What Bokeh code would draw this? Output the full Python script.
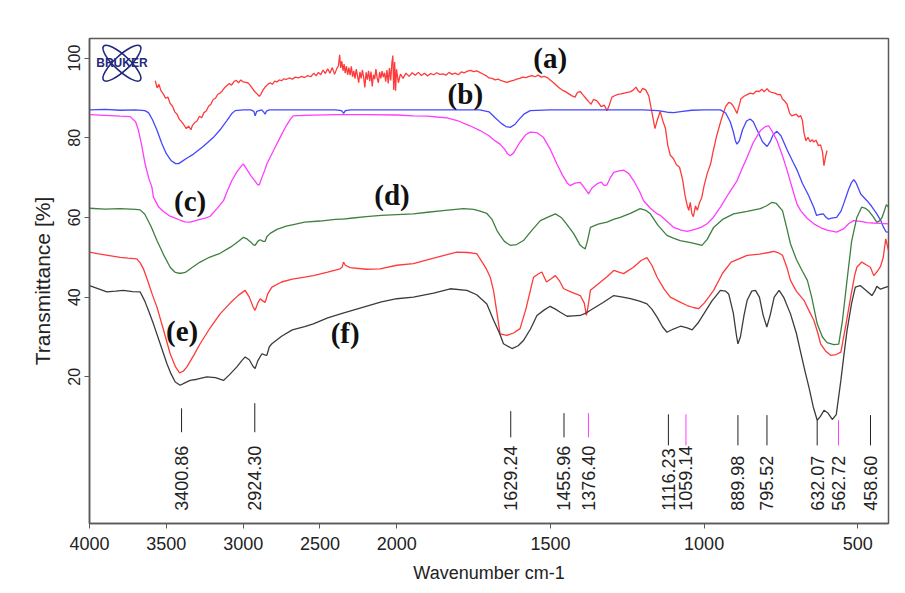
import numpy as np
from bokeh.plotting import figure
from bokeh.models import Range1d, FixedTicker
from bokeh.core.properties import value
from bokeh.embed import file_html
from bokeh.resources import INLINE

# ---------------- data (wavenumber cm-1, transmittance %) ----------------
a_wn = [3572,3560,3548,3535,3520,3505,3490,3475,3460,3445,3430,3415,3400,3385,3370,3355,3340,3330,3315,3300,
        3285,3270,3255,3240,3225,3210,3195,3180,3165,3150,3135,3120,3105,3090,3075,3060,3045,3030,3015,3000,
        2985,2970,2955,2940,2925,2910,2895,2885,2870,2855,2840,2824,2810,2795,2780,2765,2750,2735,2720,2700,
        2680,2660,2640,2620,2600,2580,2560,2540,2525,2510,2495,2480,2465,2450,2435,2420,2405,2390,2380,2372,
        2365,2358,2350,2343,2336,2328,2320,2312,2304,2296,2288,2280,2272,2264,2256,2248,2240,2232,2224,2216,
        2208,2200,2192,2184,2176,2168,2160,2152,2144,2136,2128,2120,2112,2104,2096,2088,2080,2072,2064,2056,
        2048,2040,2032,2026,2020,2014,2008,2002,1995,1988,1980,1970,1960,1950,1940,1930,1920,1910,1900,1890,
        1880,1870,1860,1850,1840,1830,1820,1810,1800,1790,1780,1770,1760,1750,1740,1730,1720,1710,1700,1690,
        1680,1670,1660,1650,1642,1630,1620,1610,1600,1590,1580,1570,1560,1550,1540,1530,1520,1510,1500,1490,
        1480,1470,1460,1450,1440,1430,1420,1412,1403,1395,1385,1375,1368,1360,1350,1342,1335,1325,1316,1308,
        1300,1290,1280,1270,1260,1250,1240,1230,1222,1215,1208,1200,1190,1180,1170,1160,1152,1143,1135,1126,
        1118,1110,1100,1090,1080,1070,1062,1055,1050,1045,1040,1035,1028,1022,1015,1008,1000,990,979,970,
        960,950,940,930,920,912,905,898,893,887,880,870,860,850,840,830,820,812,805,795,
        788,780,770,760,752,745,738,730,722,715,708,700,692,686,680,675,669,662,655,648,
        643,636,628,621,615,610,605,600]
a_t = [94.3,92.5,93.4,91.8,91.0,89.9,90.2,88.6,87.9,86.5,85.9,84.6,84.0,83.2,82.3,82.9,82.0,83.1,83.8,84.2,
       85.4,85.0,86.3,86.7,87.9,88.4,89.6,89.9,90.9,91.2,91.8,92.6,93.1,93.6,93.2,94.1,94.4,93.8,94.5,94.0,
       93.9,93.8,93.2,92.4,91.6,91.0,90.4,90.9,92.0,92.8,93.4,93.8,93.4,94.2,94.0,94.5,94.3,94.8,94.6,95.0,
       94.7,95.2,95.0,95.4,95.1,95.6,95.3,96.2,95.5,96.4,95.8,97.0,96.1,97.3,96.2,97.6,95.9,97.4,98.0,100.8,
       97.5,99.2,96.8,98.5,96.2,98.0,95.8,97.6,95.7,97.9,95.3,96.8,94.8,97.2,95.6,93.8,96.5,94.9,97.0,95.2,
       92.6,96.4,94.6,96.8,94.2,96.6,92.9,95.8,94.7,97.2,95.0,93.8,96.5,94.9,96.7,95.2,96.3,94.1,97.0,93.6,
       97.5,94.4,98.8,100.6,92.0,99.0,91.8,97.2,93.8,96.0,94.9,96.2,95.4,96.3,95.7,96.4,95.6,96.2,95.5,96.1,
       95.8,96.3,95.9,96.0,95.7,96.4,95.9,96.2,95.8,96.5,96.3,96.7,96.9,96.6,96.8,96.4,96.0,95.6,95.0,94.9,
       94.5,94.7,94.3,94.1,93.9,94.2,94.4,94.7,94.9,95.2,95.1,95.4,95.6,95.3,95.7,95.2,95.4,95.1,94.4,93.8,
       93.1,92.4,91.9,91.5,91.0,90.5,90.2,91.4,91.6,90.8,89.9,89.0,88.4,89.6,89.3,88.6,87.8,88.2,86.8,88.3,
       90.2,90.6,90.9,91.0,91.2,91.4,91.5,92.0,92.7,91.8,91.3,92.4,92.0,90.5,86.5,82.3,84.5,86.6,84.4,82.4,
       78.0,75.6,74.8,73.2,72.6,69.5,65.5,63.0,61.8,63.8,61.0,60.2,62.9,61.8,63.7,64.9,68.0,71.0,73.4,76.8,
       80.2,83.0,85.6,87.8,88.9,88.6,87.9,86.9,86.1,87.8,89.8,90.4,90.8,91.2,91.0,91.7,91.6,92.2,91.5,92.3,
       91.6,91.4,91.2,90.8,90.9,89.7,89.2,88.4,86.2,85.5,85.7,85.9,85.2,85.6,84.3,81.2,79.3,80.1,79.0,79.5,
       78.9,79.4,78.0,78.2,76.5,73.0,75.2,76.8]

b_wn = [4000,3900,3800,3700,3640,3616,3590,3560,3530,3500,3470,3440,3420,3400,3370,3323,3260,3193,3150,3106,
        3075,3052,3000,2950,2930,2922,2912,2880,2865,2857,2848,2830,2700,2500,2400,2360,2346,2335,2300,2000,
        1900,1800,1730,1700,1680,1660,1645,1631,1615,1600,1585,1566,1500,1400,1300,1200,1150,1120,1099,1070,
        1040,1000,960,947,930,915,905,898,893,885,875,862,850,840,825,810,795,785,775,763,
        750,730,710,697,680,660,643,634,620,612,604,596,585,569,555,546,530,520,513,505,
        490,470,455,438,425,416,408,400]
b_t = [87.0,87.1,86.9,87.0,86.8,86.3,84.5,81.8,78.6,76.0,74.3,73.5,73.5,74.0,74.8,75.9,77.8,80.1,82.0,84.3,
       86.0,86.8,87.0,87.0,86.6,85.5,86.6,87.0,86.4,85.9,86.7,87.0,87.0,87.0,87.0,86.8,86.1,86.8,87.0,87.0,
       87.0,87.0,87.0,86.5,85.0,83.6,82.8,82.6,83.4,84.8,86.0,86.8,87.0,87.0,87.0,87.0,86.8,86.4,86.3,86.6,
       86.9,87.0,87.0,87.0,86.2,84.0,81.5,79.2,78.4,79.3,82.0,84.2,84.7,84.0,81.5,79.0,77.8,79.0,80.8,81.6,
       80.5,77.0,73.8,71.8,68.5,65.5,62.5,60.5,60.8,60.9,60.1,59.6,59.8,60.0,61.5,63.4,67.0,68.8,69.5,68.6,
       65.8,64.2,62.8,60.9,59.2,57.5,56.4,56.3]

c_wn = [4000,3900,3800,3735,3700,3681,3660,3638,3614,3594,3584,3550,3519,3480,3453,3410,3380,3345,3310,3280,
        3240,3215,3170,3128,3106,3074,3040,3010,2998,2975,2950,2920,2905,2895,2880,2860,2846,2800,2759,2720,
        2690,2673,2600,2400,2200,2000,1946,1900,1870,1837,1800,1762,1729,1700,1680,1664,1650,1640,1631,1620,
        1600,1580,1566,1545,1523,1500,1479,1460,1445,1436,1420,1403,1390,1376,1365,1349,1335,1325,1316,1305,
        1294,1280,1262,1245,1229,1210,1197,1175,1153,1142,1120,1099,1075,1055,1030,1010,990,970,947,920,
        893,875,860,840,817,800,790,778,763,745,730,710,698,686,665,643,620,600,569,545,
        530,513,490,470,450,426,400]
c_t = [85.8,85.6,85.4,85.3,84.0,81.8,78.0,73.4,69.8,67.6,65.1,62.6,61.5,60.4,60.0,59.3,58.9,58.8,59.2,59.5,
       59.9,60.3,62.2,64.2,66.4,69.2,71.5,73.0,73.4,72.0,70.5,69.0,68.2,68.2,69.8,71.8,73.4,77.0,80.1,83.0,
       84.8,85.5,85.6,85.8,85.8,85.7,85.5,85.4,85.2,85.0,84.2,83.0,81.8,80.5,79.2,78.4,77.2,76.0,75.5,76.2,
       78.8,80.8,81.4,81.3,80.1,77.0,73.4,70.5,68.6,68.0,68.6,68.8,67.5,65.9,67.4,68.4,68.9,68.0,68.2,70.0,
       71.3,71.6,71.9,71.0,69.2,66.5,64.2,62.3,60.9,60.5,59.0,57.5,56.8,56.5,57.0,57.5,58.4,60.0,62.6,66.0,
       69.2,72.5,75.1,78.8,81.8,82.8,83.0,81.5,79.3,75.5,71.8,66.5,63.4,61.7,59.8,58.4,57.4,56.8,56.3,57.2,
       58.4,59.2,59.0,58.7,58.6,58.5,58.4]

d_wn = [4000,3900,3800,3700,3670,3640,3600,3561,3520,3475,3445,3421,3400,3377,3330,3280,3220,3150,3080,3030,
        2998,2975,2950,2935,2922,2905,2889,2870,2857,2845,2824,2780,2720,2673,2600,2500,2400,2369,2350,2300,
        2200,2100,2000,1946,1900,1850,1783,1750,1729,1707,1690,1674,1664,1650,1631,1610,1588,1560,1533,1510,
        1484,1465,1448,1425,1403,1395,1387,1380,1370,1345,1316,1295,1273,1240,1208,1190,1175,1150,1121,1100,
        1078,1040,1007,990,969,940,904,860,817,795,779,765,745,730,719,700,680,664,650,632,
        615,600,578,562,550,535,520,503,487,475,465,450,438,428,421,412,407,400]
d_t = [62.3,62.1,62.2,62.0,61.9,60.8,57.8,54.2,50.8,47.5,46.3,46.0,46.0,46.2,47.5,48.8,50.0,51.0,52.6,54.0,
       55.0,54.6,53.8,53.2,53.0,54.0,54.4,54.0,54.0,55.2,56.0,57.0,57.8,58.2,58.8,59.1,59.5,59.6,59.6,59.8,
       60.2,60.5,60.7,60.9,61.3,61.7,62.2,62.0,61.6,61.0,59.5,56.7,55.5,54.0,53.0,53.2,54.2,56.8,59.2,60.0,
       60.9,60.0,58.4,56.0,53.0,52.5,52.1,54.0,57.5,58.3,58.8,59.5,60.0,61.0,62.2,61.8,60.9,58.0,55.5,54.8,
       54.2,53.6,53.0,54.5,57.5,59.5,60.9,61.5,62.2,63.0,63.8,63.5,61.7,57.0,53.4,49.5,46.5,44.2,40.0,33.3,
       30.0,28.6,28.1,28.2,34.0,44.2,54.0,60.0,62.6,62.3,61.7,60.2,58.8,59.2,60.0,62.0,63.2,62.6]

e_wn = [4000,3950,3900,3850,3800,3750,3692,3670,3649,3620,3590,3561,3520,3475,3440,3414,3390,3366,3320,3280,
        3220,3150,3080,3030,2987,2960,2935,2922,2905,2889,2870,2857,2840,2813,2750,2680,2600,2543,2450,2369,
        2355,2347,2335,2304,2200,2109,2000,1946,1880,1805,1770,1740,1729,1710,1696,1685,1675,1664,1642,1620,
        1599,1580,1555,1540,1528,1513,1500,1484,1470,1457,1430,1403,1390,1383,1378,1370,1340,1315,1294,1275,
        1262,1230,1205,1186,1170,1153,1130,1110,1080,1055,1035,1018,1000,985,969,940,912,860,820,790,
        773,760,745,730,719,700,675,660,643,630,621,605,588,570,555,540,523,510,503,487,
        470,459,448,436,426,417,409,404,400]
e_t = [51.3,50.9,50.6,50.3,50.0,49.8,49.6,48.6,47.1,44.0,40.5,37.5,32.0,25.8,22.5,21.0,21.4,22.5,25.5,28.3,
       32.0,35.8,38.7,40.5,41.7,40.0,37.5,36.7,38.5,39.6,39.0,38.7,40.8,42.5,43.8,44.5,45.0,45.4,46.3,47.1,
       47.6,48.8,48.0,47.4,47.0,47.1,48.0,48.4,49.8,51.3,51.2,50.9,49.6,47.3,45.0,41.5,36.5,30.8,30.4,31.0,
       32.1,37.0,45.0,45.8,46.3,43.8,44.5,45.4,44.0,42.1,41.2,40.4,38.5,35.4,37.5,41.7,43.6,45.2,46.7,46.2,
       45.9,47.5,49.2,49.9,48.0,45.0,42.0,40.0,38.8,37.9,37.4,37.1,38.5,40.0,41.7,46.0,48.8,50.5,50.8,51.2,
       51.5,51.2,50.5,47.3,44.2,41.5,39.2,36.8,34.2,31.0,28.3,26.5,25.4,25.6,26.2,32.5,40.0,45.5,47.5,48.8,
       48.0,47.5,45.4,46.5,47.7,50.0,54.6,53.0,51.7]

f_wn = [4000,3950,3887,3830,3779,3720,3670,3640,3610,3584,3540,3496,3470,3442,3410,3380,3345,3300,3236,3180,
        3128,3090,3041,3010,2987,2960,2935,2922,2905,2878,2860,2846,2830,2813,2750,2680,2600,2543,2450,2350,
        2217,2100,2000,1946,1880,1826,1772,1740,1707,1685,1665,1653,1625,1605,1588,1565,1544,1520,1501,1484,
        1468,1446,1425,1403,1385,1370,1330,1294,1265,1240,1210,1186,1170,1153,1135,1121,1100,1077,1055,1039,
        1020,1001,975,947,930,920,905,895,890,882,870,860,845,833,820,808,796,785,772,756,
        740,719,700,686,672,659,645,632,622,610,598,583,570,555,545,535,520,508,492,470,
        454,445,438,426,415,400]
f_t = [42.9,42.2,41.3,41.5,41.7,41.4,41.3,39.0,36.0,33.3,28.3,23.3,20.8,18.7,17.9,18.5,19.1,19.4,20.0,19.8,
       19.1,20.5,22.5,24.0,25.0,24.3,22.6,22.1,24.0,25.8,25.5,25.4,27.5,28.3,30.2,31.8,32.6,33.3,34.8,36.0,
       37.5,38.8,39.6,40.0,41.0,42.1,41.7,40.6,38.3,34.2,30.8,28.3,27.1,27.8,29.1,32.0,35.4,36.8,37.7,37.0,
       36.2,35.2,35.3,35.4,36.0,36.7,38.6,40.4,40.0,39.6,39.0,38.3,37.0,35.0,32.5,31.2,32.0,32.7,32.3,31.8,
       33.5,35.8,39.0,41.7,41.5,40.8,36.0,30.5,28.3,30.0,35.5,39.2,41.5,41.7,40.0,35.5,32.5,35.5,40.0,41.7,
       39.8,35.8,31.0,26.2,21.5,17.4,12.5,9.1,10.0,11.6,11.0,9.3,10.5,19.1,25.5,31.6,38.5,42.5,42.9,41.5,
       40.4,41.5,42.7,42.0,42.3,42.7]

series_names = ["(a)", "(b)", "(c)", "(d)", "(e)", "(f)"]
series_wn = [a_wn, b_wn, c_wn, d_wn, e_wn, f_wn]
series_t = [a_t, b_t, c_t, d_t, e_t, f_t]

# curve-label anchor (wavenumber, transmittance)
label_wn = [1501, 1777, 3345, 2031, 3397, 2336]
label_t = [100.0, 91.0, 64.2, 65.7, 31.6, 30.9]

# peak picks
peak_wn = [3400.86, 2924.30, 1629.24, 1455.96, 1376.40, 1116.23, 1059.14, 889.98, 795.52, 632.07, 562.72, 458.60]
peak_text = ["3400.86", "2924.30", "1629.24", "1455.96", "1376.40", "1116.23", "1059.14",
             "889.98", "795.52", "632.07", "562.72", "458.60"]

tick_wn = [4000, 3500, 3000, 2500, 2000, 1500, 1000, 500]
ytick_vals = [20, 40, 60, 80, 100]

# ---------------- styles ----------------
series_colors = ["#ff3a3a", "#4646ff", "#ff3cff", "#3f7f3f", "#ff3a3a", "#3c3c3c"]
peak_colors = ["#222", "#222", "#222", "#222", "#ff3cff", "#222", "#ff3cff",
               "#222", "#222", "#222", "#ff3cff", "#222"]
peak_top = [12.1, 13.4, 11.4, 10.9, 10.9, 10.6, 10.6, 10.4, 10.4, 9.1, 9.1, 10.4]
peak_bot = [6.1, 6.1, 4.8, 4.8, 4.8, 2.8, 2.8, 2.8, 2.8, 2.8, 2.8, 2.8]
peak_label_y = -13.6


def xpos(w):
    """OPUS style abscissa: scale doubles below 2000 cm-1."""
    w = np.asarray(w, dtype=float)
    return np.where(w >= 2000, 4000 - w, 2000 + 2 * (2000 - w))


p = figure(width=905, height=593, output_backend="svg", toolbar_location=None,
           x_range=Range1d(0, float(xpos(400))), y_range=Range1d(-16.8, 104.9),
           min_border_left=89, min_border_right=17, min_border_top=38, min_border_bottom=70)

p.xgrid.visible = False
p.ygrid.visible = False
p.outline_line_color = "#5a5a5a"
p.outline_line_width = 1.5
p.background_fill_color = "white"
p.border_fill_color = "white"

for wn, t, col in zip(series_wn, series_t, series_colors):
    p.line(xpos(wn), t, line_color=col, line_width=1.3)

# peak markers
p.segment(x0=xpos(peak_wn), y0=peak_top, x1=xpos(peak_wn), y1=peak_bot,
          line_color=peak_colors, line_width=1)
p.text(x=xpos(peak_wn), y=[peak_label_y] * len(peak_wn), text=peak_text, angle=np.pi / 2,
       text_align="left", text_baseline="middle", text_font=value("Liberation Sans"),
       text_font_size="18px", text_color="#222")

# curve labels
p.text(x=xpos(label_wn), y=label_t, text=series_names, text_align="center", text_baseline="middle",
       text_font=value("Liberation Serif"), text_font_style="bold", text_font_size="29px",
       text_color="#111")

# BRUKER logo
navy = "#1f2a7c"
logo_x, logo_y = float(xpos(3789)), 98.7
p.ellipse(x=[logo_x, logo_x], y=[logo_y, logo_y], width=[50, 50], height=[15, 15],
          width_units="screen", height_units="screen", angle=[0.75, -0.75],
          fill_color=None, line_color=navy, line_width=1.6)
p.text(x=[logo_x], y=[logo_y], text=["BRUKER"], text_align="center", text_baseline="middle",
       text_font=value("Liberation Sans"), text_font_style="bold", text_font_size="12px",
       text_color=navy)

# axes
xt = [int(v) for v in xpos(tick_wn)]
p.xaxis.ticker = FixedTicker(ticks=xt)
p.xaxis.major_label_overrides = {k: str(w) for k, w in zip(xt, tick_wn)}
p.yaxis.ticker = FixedTicker(ticks=ytick_vals)
p.yaxis.major_label_orientation = "vertical"

for ax in (p.xaxis, p.yaxis):
    ax.axis_line_color = "#5a5a5a"
    ax.axis_line_width = 1.5
    ax.major_tick_line_color = "#5a5a5a"
    ax.major_tick_out = 5
    ax.major_tick_in = 0
    ax.minor_tick_line_color = None
    ax.major_label_text_font = "Liberation Sans"
    ax.major_label_text_color = "#222"
    ax.axis_label_text_font = "Liberation Sans"
    ax.axis_label_text_font_style = "normal"
    ax.axis_label_text_color = "#222"

p.xaxis.major_label_text_font_size = "18px"
p.xaxis.major_label_standoff = 8
p.xaxis.axis_label = "Wavenumber cm-1"
p.xaxis.axis_label_text_font_size = "18px"
p.xaxis.axis_label_standoff = 10

p.yaxis.major_label_text_font_size = "16px"
p.yaxis.major_label_standoff = 4
p.yaxis.axis_label = "Transmittance [%]"
p.yaxis.axis_label_text_font_size = "21px"
p.yaxis.axis_label_standoff = 12

open("out.html", "w").write(file_html(p, INLINE))
